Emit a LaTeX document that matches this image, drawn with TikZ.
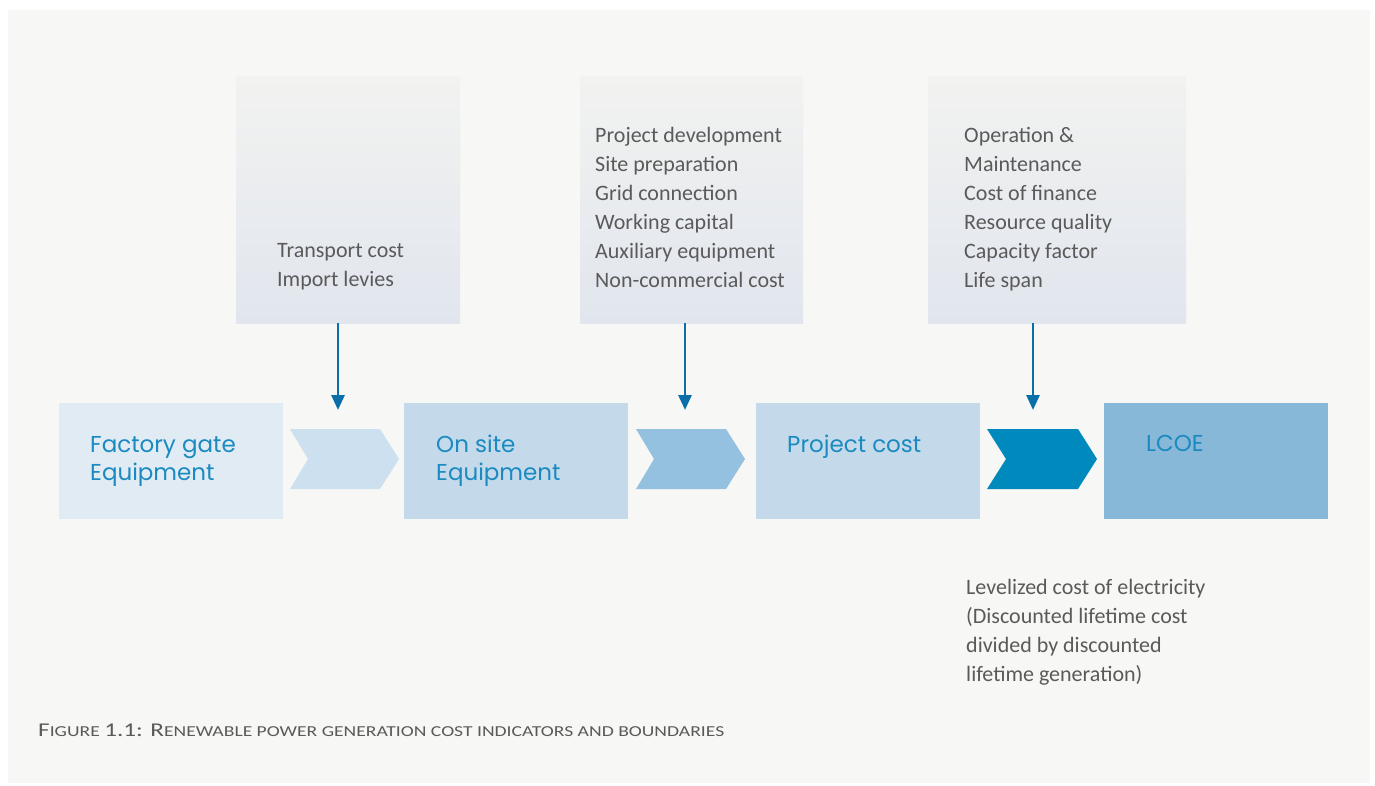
\documentclass[tikz,border=0pt]{standalone}
\usepackage{fontspec}
\setmainfont{Carlito}
\newfontfamily\bluefont{Poppins}
\newfontfamily\capfont[FakeStretch=1.29]{Carlito}
\usetikzlibrary{arrows.meta}
\definecolor{panel}{HTML}{F7F7F5}
\definecolor{topA}{HTML}{F2F2F0}
\definecolor{topB}{HTML}{E1E6EE}
\definecolor{boxA}{HTML}{E0EBF4}
\definecolor{boxB}{HTML}{C4DAEB}
\definecolor{boxD}{HTML}{88B8D8}
\definecolor{chevA}{HTML}{CDE0EF}
\definecolor{chevB}{HTML}{95C1E0}
\definecolor{chevC}{HTML}{0089BC}
\definecolor{arrowc}{HTML}{0A6FA8}
\definecolor{bluetxt}{HTML}{1A8AC0}
\definecolor{graytxt}{HTML}{5A5A5A}
\tikzset{
  topbox/.style={draw=none, top color=topA, bottom color=topB, minimum width=#1, minimum height=247pt, inner sep=0pt, anchor=north west},
  costbox/.style={draw=none, minimum width=224pt, minimum height=116pt, inner sep=0pt, anchor=north west},
  graytext/.style={anchor=base west, inner sep=0pt, align=left, text=graytxt, font=\fontsize{22}{29}\selectfont},
  bluetext/.style={anchor=base west, inner sep=0pt, align=left, text=bluetxt, font=\bluefont\fontsize{23}{28}\selectfont},
  feed/.style={draw=arrowc, line width=2.8pt, -{Triangle[length=15pt,width=13pt]}},
}
\begin{document}
\begin{tikzpicture}[x=1pt,y=-1pt]
\useasboundingbox (0,0) rectangle (1375,785);
\fill[white] (0,0) rectangle (1375,785);
\fill[panel] (8,10) rectangle (1370,783);
% top boxes
\node[topbox=224pt] (t1) at (236,76) {};
\node[topbox=223pt] (t2) at (580,76) {};
\node[topbox=258pt] (t3) at (928,76) {};
% (base anchor = baseline of the last line)
\node[graytext] (t1txt) at (277,286) {Transport cost\\Import levies};
\node[graytext] (t2txt) at (595,287) {Project development\\Site preparation\\Grid connection\\Working capital\\Auxiliary equipment\\Non-commercial cost};
\node[graytext] (t3txt) at (964,287) {Operation \&\\Maintenance\\Cost of finance\\Resource quality\\Capacity factor\\Life span};
% bottom boxes
\node[costbox, fill=boxA] (b1) at (59,403) {};
\node[costbox, fill=boxB] (b2) at (404,403) {};
\node[costbox, fill=boxB] (b3) at (756,403) {};
\node[costbox, fill=boxD] (b4) at (1104,403) {};
\node[bluetext] (b1txt) at (90,480) {Factory gate\\Equipment};
\node[bluetext] (b2txt) at (436,480) {On site\\Equipment};
\node[bluetext] (b3txt) at (787,452) {Project cost};
\node[bluetext] (b4txt) at (1146,451) {LCOE};
% chevrons
\fill[chevA] (290,429) -- (380,429) -- (399,459) -- (380,489) -- (290,489) -- (308,459) -- cycle;
\fill[chevB] (636,429) -- (726,429) -- (745,459) -- (726,489) -- (636,489) -- (654,459) -- cycle;
\fill[chevC] (987,429) -- (1078,429) -- (1097,459) -- (1078,489) -- (987,489) -- (1006,459) -- cycle;
% arrows
\coordinate (a1) at (338,410);
\coordinate (a2) at (685,410);
\coordinate (a3) at (1033,410);
\draw[feed] (t1.south -| a1) -- (a1);
\draw[feed] (t2.south -| a2) -- (a2);
\draw[feed] (t3.south -| a3) -- (a3);
% LCOE note
\node[graytext] (note) at (966,681) {Levelized cost of electricity\\(Discounted lifetime cost\\divided by discounted\\lifetime generation)};
% caption
\node[anchor=base west, inner sep=0pt, text=graytxt] (cap) at (38,736) {\capfont\fontsize{19.5}{19}\selectfont F\fontsize{15.2}{19}\selectfont IGURE \fontsize{19.5}{19}\selectfont 1.1: R\fontsize{15.2}{19}\selectfont ENEWABLE POWER GENERATION COST INDICATORS AND BOUNDARIES};
\end{tikzpicture}
\end{document}
